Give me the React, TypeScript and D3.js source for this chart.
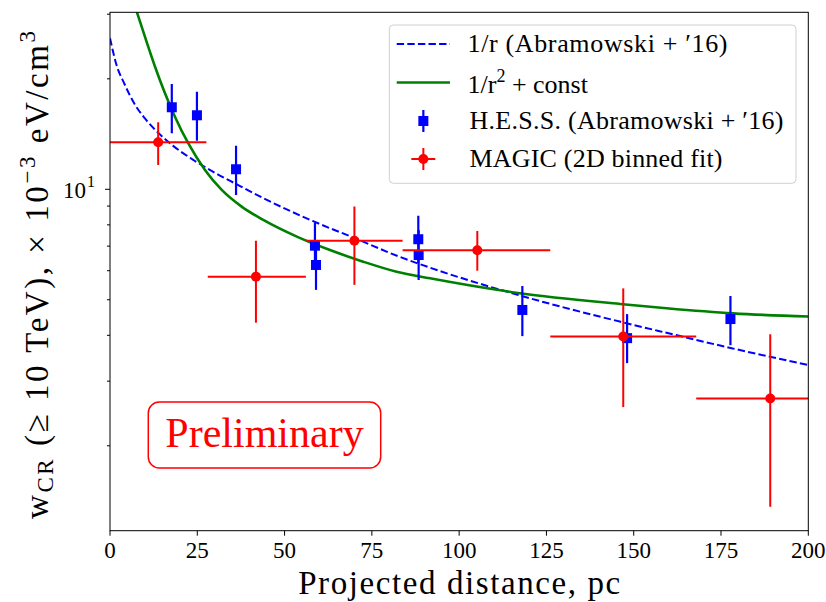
import React from 'react';
import * as d3 from 'd3';

// ---- data -------------------------------------------------------------
// H.E.S.S. points (Abramowski+ '16): distance [pc], value and 1-sigma bounds
const hessX = [17.7, 24.9, 36.1, 58.7, 59.0, 88.3, 88.4, 118.1, 148.1, 177.7];
const hessY = [16.73, 15.91, 11.34, 7.02, 6.22, 7.31, 6.62, 4.69, 3.93, 4.43];
const hessLo = [14.21, 13.56, 9.65, 6.08, 5.32, 6.3, 5.66, 3.98, 3.36, 3.76];
const hessHi = [19.36, 18.45, 13.15, 8.11, 7.23, 8.47, 7.75, 5.45, 4.57, 5.12];

// MAGIC 2D binned fit: bin centre, bin edges, value and 1-sigma bounds
const magicX = [13.8, 41.8, 70.0, 105.2, 147.0, 189.1];
const magicXLo = [0, 28.0, 56.2, 83.8, 126.1, 167.9];
const magicXHi = [27.6, 56.1, 83.8, 126.1, 167.9, 210.0];
const magicY = [13.43, 5.78, 7.24, 6.82, 3.97, 2.69];
const magicLo = [11.65, 4.33, 5.49, 6.0, 2.55, 1.365];
const magicHi = [15.22, 7.24, 8.97, 7.7, 5.37, 4.03];

// 1/r profile (Abramowski+ '16)
const invRX = [0, 2, 4, 7, 10, 14, 18, 24, 30, 36, 44, 58, 71, 82, 92, 117, 146, 160, 178, 200];
const invRY = [25.8, 21.6, 19.5, 17.1, 15.6, 14.2, 13.15, 12.0, 11.1, 10.35, 9.45, 8.2, 7.3, 6.6, 6.1, 5.15, 4.36, 4.05, 3.69, 3.32];

// 1/r^2 + const profile
const invR2X = [7.7, 10, 12.9, 15.75, 18.6, 22.4, 27.2, 32, 37.7, 43.9, 53.5, 63, 72.5, 82.1, 91.65, 117.4, 146.1, 159.4, 178.5, 200];
const invR2Y = [30.4, 26.05, 21.58, 18.26, 15.77, 13.35, 11.29, 9.96, 8.97, 8.25, 7.43, 6.83, 6.35, 5.96, 5.72, 5.21, 4.87, 4.74, 4.59, 4.5];

const xTicks = [0, 25, 50, 75, 100, 125, 150, 175, 200];
const yMajorTicks = [10];
const yMinorTicks = [2, 3, 4, 5, 6, 7, 8, 9, 20, 30];
const xDomain = [0, 200];
const yDomain = [1.174, 30.36];

const legendLabels = [
  '1/r (Abramowski +  \u203216)',
  '1/r',
  'H.E.S.S. (Abramowski +  \u203216)',
  'MAGIC (2D binned fit)',
];

// ---- layout -----------------------------------------------------------
const W = 826;
const H = 602;
const PL = 110;
const PR = 808.3;
const PT = 12.3;
const PB = 530.7;
const FONT = "'Liberation Serif', 'DejaVu Serif', serif";
const BLUE = '#0000ff';
const RED = '#ff0000';
const GREEN = '#008000';

export default function App() {
  const x = d3.scaleLinear().domain(xDomain).range([PL, PR]);
  const y = d3.scaleLog().domain(yDomain).range([PB, PT]);

  const line = d3
    .line<[number, number]>()
    .x((d) => x(d[0]))
    .y((d) => y(d[1]))
    .curve(d3.curveMonotoneX);

  const invRPath = line(invRX.map((v, i) => [v, invRY[i]]) as [number, number][]) || '';
  const invR2Path = line(invR2X.map((v, i) => [v, invR2Y[i]]) as [number, number][]) || '';

  // legend geometry
  const lgX = 389.3;
  const lgY = 25;
  const lgW = 406.7;
  const lgH = 158.3;
  const rowY = [44, 82.5, 121, 159];
  const hx0 = 396.7;
  const hx1 = 450;
  const hxm = (hx0 + hx1) / 2;
  const tx = 467.5;

  return (
    <svg
      width={W}
      height={H}
      viewBox={`0 0 ${W} ${H}`}
      style={{ position: 'absolute', left: 0, top: 0, background: '#fff' }}
      fontFamily={FONT}
    >
      <defs>
        <clipPath id="plotArea">
          <rect x={PL} y={PT} width={PR - PL} height={PB - PT} />
        </clipPath>
      </defs>
      <rect x={0} y={0} width={W} height={H} fill="#fff" />

      <g clipPath="url(#plotArea)">
        <path d={invRPath} fill="none" stroke={BLUE} strokeWidth={2} strokeDasharray="7.4 3.2" />
        <path d={invR2Path} fill="none" stroke={GREEN} strokeWidth={2.6} />

        {/* H.E.S.S. error bars and squares */}
        {hessX.map((v, i) => (
          <g key={`h${i}`}>
            <line x1={x(v)} x2={x(v)} y1={y(hessLo[i])} y2={y(hessHi[i])} stroke={BLUE} strokeWidth={2.2} />
            <rect x={x(v) - 5} y={y(hessY[i]) - 5} width={10} height={10} fill={BLUE} />
          </g>
        ))}

        {/* MAGIC error bars and circles */}
        {magicX.map((v, i) => (
          <g key={`m${i}`}>
            <line x1={x(magicXLo[i])} x2={x(magicXHi[i])} y1={y(magicY[i])} y2={y(magicY[i])} stroke={RED} strokeWidth={2} />
            <line x1={x(v)} x2={x(v)} y1={y(magicLo[i])} y2={y(magicHi[i])} stroke={RED} strokeWidth={2} />
            <circle cx={x(v)} cy={y(magicY[i])} r={5} fill={RED} />
          </g>
        ))}
      </g>

      {/* frame */}
      <rect x={PL} y={PT} width={PR - PL} height={PB - PT} fill="none" stroke="#000" strokeWidth={1} />

      {/* x axis */}
      {xTicks.map((t) => (
        <g key={`xt${t}`}>
          <line x1={x(t)} x2={x(t)} y1={PB} y2={PB + 5} stroke="#000" strokeWidth={1} />
          <text x={x(t)} y={558} textAnchor="middle" fontSize={23} fill="#000">
            {t}
          </text>
        </g>
      ))}
      <text
        x={(PL + PR) / 2}
        y={594}
        textAnchor="middle"
        fontSize={33}
        fill="#000"
        textLength={322}
        lengthAdjust="spacing"
      >
        Projected distance,  pc
      </text>

      {/* y axis */}
      {yMinorTicks.map((t) => (
        <line key={`ym${t}`} x1={PL - 3} x2={PL} y1={y(t)} y2={y(t)} stroke="#000" strokeWidth={1} />
      ))}
      {yMajorTicks.map((t) => (
        <g key={`yM${t}`}>
          <line x1={PL - 5} x2={PL} y1={y(t)} y2={y(t)} stroke="#000" strokeWidth={1} />
          <text x={86} y={y(t) + 9} textAnchor="end" fontSize={23} fill="#000">
            10
          </text>
          <text x={87} y={y(t) - 2} textAnchor="start" fontSize={16} fill="#000">
            {Math.round(Math.log10(t))}
          </text>
        </g>
      ))}
      <text
        transform={`translate(48, 275) rotate(-90)`}
        textAnchor="middle"
        fontSize={33}
        fill="#000"
        textLength={488}
        lengthAdjust="spacing"
      >
        <tspan>w</tspan>
        <tspan fontSize={23} dy={5}>CR</tspan>
        <tspan dy={-5}>{'  (\u2265 10 TeV),   \u00d7 10'}</tspan>
        <tspan fontSize={23} dy={-13}>{'\u22123'}</tspan>
        <tspan dy={13}>{' eV/cm'}</tspan>
        <tspan fontSize={23} dy={-13}>3</tspan>
      </text>

      {/* Preliminary stamp */}
      <rect x={148.3} y={402} width={232.4} height={66} rx={11} fill="#fff" stroke={RED} strokeWidth={1.5} />
      <text x={264.5} y={447} textAnchor="middle" fontSize={42} fill={RED}>
        Preliminary
      </text>

      {/* legend */}
      <rect x={lgX} y={lgY} width={lgW} height={lgH} rx={4} fill="#fff" fillOpacity={0.8} stroke="#d0d0d0" strokeWidth={1} />
      <line x1={hx0} x2={hx1} y1={rowY[0]} y2={rowY[0]} stroke={BLUE} strokeWidth={2} strokeDasharray="7.4 3.2" />
      <line x1={hx0} x2={hx1} y1={rowY[1]} y2={rowY[1]} stroke={GREEN} strokeWidth={2.6} />
      <line x1={hxm} x2={hxm} y1={rowY[2] - 11} y2={rowY[2] + 11} stroke={BLUE} strokeWidth={2.2} />
      <rect x={hxm - 5} y={rowY[2] - 5} width={10} height={10} fill={BLUE} />
      <line x1={hxm - 12} x2={hxm + 12} y1={rowY[3]} y2={rowY[3]} stroke={RED} strokeWidth={2} />
      <line x1={hxm} x2={hxm} y1={rowY[3] - 11} y2={rowY[3] + 11} stroke={RED} strokeWidth={2} />
      <circle cx={hxm} cy={rowY[3]} r={5} fill={RED} />

      <text x={tx} y={rowY[0] + 8} fontSize={26} fill="#000" textLength={260} lengthAdjust="spacing">
        {legendLabels[0]}
      </text>
      <text x={tx} y={rowY[1] + 10} fontSize={26} fill="#000">
        <tspan>{legendLabels[1]}</tspan>
        <tspan fontSize={18} dy={-11}>2</tspan>
        <tspan dy={11}>{' + const'}</tspan>
      </text>
      <text x={tx + 2} y={rowY[2] + 8} fontSize={26} fill="#000" textLength={314} lengthAdjust="spacing">
        {legendLabels[2]}
      </text>
      <text x={tx + 2} y={rowY[3] + 8} fontSize={26} fill="#000" textLength={253} lengthAdjust="spacing">
        {legendLabels[3]}
      </text>
    </svg>
  );
}
